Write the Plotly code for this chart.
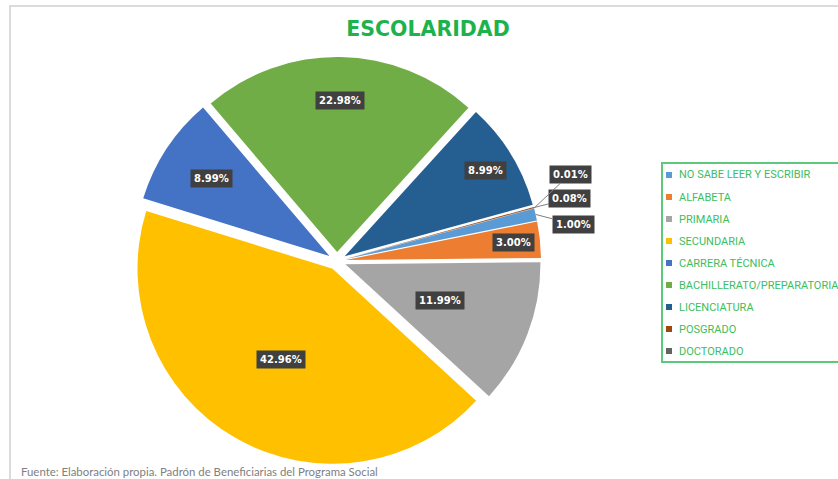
import math
import plotly.graph_objects as go

categories = ["NO SABE LEER Y ESCRIBIR", "ALFABETA", "PRIMARIA", "SECUNDARIA",
              "CARRERA TÉCNICA", "BACHILLERATO/PREPARATORIA", "LICENCIATURA",
              "POSGRADO", "DOCTORADO"]
values = [1.00, 3.00, 11.99, 42.96, 8.99, 22.98, 8.99, 0.08, 0.01]
colors = ["#5B9BD5", "#ED7D31", "#A5A5A5", "#FFC000", "#4472C4",
          "#70AD47", "#255E91", "#9E480E", "#636363"]

W, H = 838, 479
ROT = 75
PULL = 0.046
DOM_X = [133 / W, 541 / W]
DOM_Y = [1 - 465 / H, 1 - 57 / H]

# label placement: radial fraction for inside labels, or pixel offsets for outside ones
label_rho = [None, 0.865, 0.518, 0.534, 0.726, 0.775, 0.846, None, None]
label_offset = {0: (38, 10), 7: (36, -9), 8: (36, -34)}

fig = go.Figure(go.Pie(
    labels=categories, values=values, sort=False, direction="clockwise",
    rotation=ROT, pull=[PULL] * len(values),
    marker=dict(colors=colors, line=dict(width=0)),
    textinfo="none", hoverinfo="label+percent", showlegend=False,
    domain=dict(x=DOM_X, y=DOM_Y),
))

# geometry of the pie in pixels (derived from domain)
wpx = (DOM_X[1] - DOM_X[0]) * W
hpx = (DOM_Y[1] - DOM_Y[0]) * H
cx = (DOM_X[0] + DOM_X[1]) / 2 * W
cy = H - (DOM_Y[0] + DOM_Y[1]) / 2 * H
r = min(wpx, hpx) / 2 / (1 + PULL)

total = sum(values)
cum = 0.0
annotations = []
shapes = []
for i, v in enumerate(values):
    mid = ROT + (cum + v / 2) / total * 360
    cum += v
    th = math.radians(mid)
    txt = f"{v:.2f}%"
    box = dict(text=f"<b>{txt}</b>", bgcolor="#404040", borderpad=3,
               font=dict(family="DejaVu Sans", size=10, color="white"),
               xref="paper", yref="paper", xanchor="center", yanchor="middle")
    if label_rho[i] is not None:
        rr = (label_rho[i] + PULL) * r
        x = cx + rr * math.sin(th)
        y = cy - rr * math.cos(th)
        annotations.append(dict(x=x / W, y=1 - y / H, showarrow=False, **box))
    else:
        rr = (1 + PULL) * r
        x = cx + rr * math.sin(th)
        y = cy - rr * math.cos(th)
        ax, ay = label_offset[i]
        annotations.append(dict(x=x / W, y=1 - y / H, showarrow=True, arrowhead=0,
                                arrowwidth=1, arrowcolor="#7f7f7f", ax=ax, ay=ay,
                                standoff=0, **box))

# legend (drawn as a boxed list of colour keys and labels)
LEG_X, LEG_Y0, LEG_STEP = 662, 175, 22
shapes.append(dict(type="rect", xref="paper", yref="paper", x0=LEG_X / W, x1=1.05,
                   y0=1 - 362 / H, y1=1 - 163 / H, line=dict(color="#5DC97C", width=2),
                   fillcolor="white"))
for i, (cat, col) in enumerate(zip(categories, colors)):
    yc = LEG_Y0 + i * LEG_STEP
    shapes.append(dict(type="rect", xref="paper", yref="paper",
                       x0=(LEG_X + 4) / W, x1=(LEG_X + 10) / W,
                       y0=1 - (yc + 3) / H, y1=1 - (yc - 3) / H,
                       fillcolor=col, line=dict(width=0)))
    annotations.append(dict(text=cat, x=(LEG_X + 15) / W, y=1 - yc / H, xref="paper",
                            yref="paper", xanchor="left", yanchor="middle", showarrow=False,
                            font=dict(family="Liberation Sans Narrow, Roboto", size=11,
                                      color="#3DBD5E")))

annotations.append(dict(text="Fuente: Elaboración propia. Padrón de Beneficiarias del Programa Social",
                        x=19 / W, y=1 - 471 / H, xref="paper", yref="paper", xanchor="left",
                        yanchor="middle", showarrow=False,
                        font=dict(family="Lato", size=11.4, color="#808080")))

shapes.insert(0, dict(type="rect", xref="paper", yref="paper", x0=10 / W, x1=1.02,
                      y0=-0.02, y1=1 - 6 / H, line=dict(color="#D0D0D0", width=1.5),
                      layer="below"))

fig.update_layout(
    width=W, height=H,
    margin=dict(l=0, r=0, t=0, b=0, autoexpand=False),
    paper_bgcolor="white", plot_bgcolor="white",
    title=dict(text="<b>ESCOLARIDAD</b>", x=428 / W, xanchor="center", y=1 - 29 / H,
               yanchor="middle", font=dict(family="DejaVu Sans", size=20.5, color="#1DB24C")),
    showlegend=False,
    annotations=annotations,
    shapes=shapes,
)

fig.write_html("out.html", config={"displayModeBar": False},
               post_script="document.body.style.margin='0px';document.body.style.overflow='hidden';")
